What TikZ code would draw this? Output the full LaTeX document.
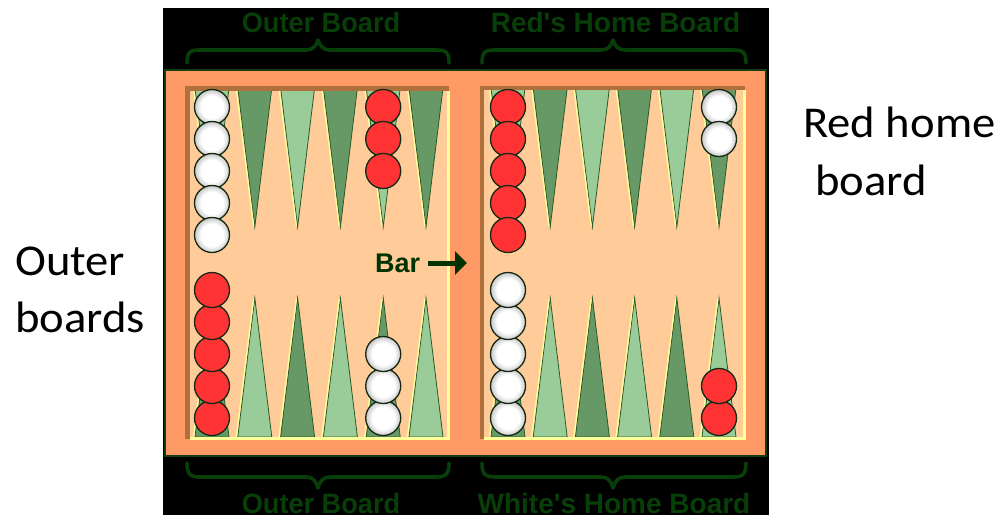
\documentclass[tikz,border=0pt]{standalone}
\usepackage{fontspec}
\setmainfont{Carlito}
\newfontfamily\boardfont{Liberation Sans}[Ligatures=TeXOff]
\usetikzlibrary{arrows.meta}
\definecolor{framecol}{RGB}{255,153,102}
\definecolor{peach}{RGB}{255,204,153}
\definecolor{bevel}{RGB}{176,112,60}
\definecolor{hilite}{RGB}{255,255,153}
\definecolor{darktri}{RGB}{102,153,102}
\definecolor{lighttri}{RGB}{153,204,153}
\definecolor{triedge}{RGB}{40,90,40}
\definecolor{redch}{RGB}{255,51,51}
\definecolor{labelgreen}{RGB}{8,62,8}
\definecolor{bargreen}{RGB}{0,51,0}
\definecolor{frameline}{RGB}{20,60,20}
\definecolor{chkline}{RGB}{20,40,20}
\pgfdeclareradialshading{chkshade}{\pgfpoint{0bp}{0bp}}{color(0bp)=(white); color(16bp)=(white); color(25bp)=(black!22); color(50bp)=(black!22)}
\begin{document}
\begin{tikzpicture}[x=1pt,y=-1pt,
  whitechk/.style={circle, minimum size=35pt, inner sep=0pt, draw=chkline, line width=1.3pt, shading=chkshade},
  redchk/.style={circle, minimum size=35pt, inner sep=0pt, draw=chkline, line width=1.3pt, fill=redch},
  lbl/.style={font=\boardfont\bfseries\fontsize{28}{30}\selectfont, text=labelgreen, inner sep=0pt, anchor=base},
  side/.style={font=\fontsize{44}{50}\selectfont, inner sep=0pt, anchor=base west},
  brace/.style={draw=labelgreen, line width=3.6pt, line cap=round, line join=round},
  tri/.style={draw=triedge, line width=0.8pt},
  hl/.style={draw=hilite, line width=1.3pt}
]
\useasboundingbox (0,0) rectangle (1001,515);
\fill[white] (0,0) rectangle (1001,515);
% board background
\fill[black] (163,8) rectangle (769,515);
\fill[framecol] (165,70) rectangle (766,456);
\draw[frameline, line width=1.5pt] (165,70) rectangle (766,456);
\fill[peach] (185,86) rectangle (449,439);
\fill[peach] (480,86) rectangle (745,439);
% top points
\foreach \cx/\c in {212/lighttri,254.8/darktri,297.6/lighttri,340.4/darktri,383.2/lighttri,426/darktri,
                    508/lighttri,550.2/darktri,592.4/lighttri,634.6/darktri,676.8/lighttri,719/darktri}{
  \filldraw[tri, fill=\c] ({\cx-17},88) -- ({\cx+17},88) -- (\cx,227) -- cycle;
  \draw[hl] ({\cx-18.5},88) -- ({\cx-1.2},226);
}
% bottom points
\foreach \cx/\c in {212/darktri,254.8/lighttri,297.6/darktri,340.4/lighttri,383.2/darktri,426/lighttri,
                    508/darktri,550.2/lighttri,592.4/darktri,634.6/lighttri,676.8/darktri,719/lighttri}{
  \filldraw[tri, fill=\c] ({\cx-17},437) -- ({\cx+17},437) -- (\cx,298) -- cycle;
  \draw[hl] ({\cx-18.5},437) -- ({\cx-1.2},299);
}
% bevels
\fill[bevel] (185,86) rectangle (449,91);
\fill[bevel] (185,86) rectangle (190,439);
\fill[hilite] (190,437) rectangle (449,439.5);
\fill[hilite] (447,91) rectangle (449.5,439.5);
\fill[bevel] (480,86) rectangle (745,90);
\fill[bevel] (480,86) rectangle (484,439);
\fill[hilite] (484,437) rectangle (745,439.5);
\fill[hilite] (743,90) rectangle (745.5,439.5);
% checkers top
\foreach \k in {0,...,4}{ \node[whitechk] (tlw\k) at (212,{107+32*\k}) {}; }
\foreach \k in {0,...,2}{ \node[redchk] (tlr\k) at (383.2,{107+32*\k}) {}; }
\foreach \k in {0,...,4}{ \node[redchk] (trr\k) at (508,{107+32*\k}) {}; }
\foreach \k in {0,...,1}{ \node[whitechk] (trw\k) at (719,{107+32*\k}) {}; }
% checkers bottom
\foreach \k in {0,...,4}{ \node[redchk] (blr\k) at (212,{418-32*\k}) {}; }
\foreach \k in {0,...,2}{ \node[whitechk] (blw\k) at (383.2,{418-32*\k}) {}; }
\foreach \k in {0,...,4}{ \node[whitechk] (brw\k) at (508,{418-32*\k}) {}; }
\foreach \k in {0,...,1}{ \node[redchk] (brr\k) at (719,{418-32*\k}) {}; }
% bar label
\node[font=\boardfont\bfseries\fontsize{27}{30}\selectfont, text=bargreen, anchor=base west, inner sep=0pt] (bar) at (375,272) {Bar};
\coordinate (barpt) at (467,263);
\draw[bargreen, line width=5pt, -{Triangle[length=12pt,width=23pt]}] (bar.east |- barpt) ++(8,0) -- (barpt);
% braces
\draw[brace] (187,63) .. controls (187,52) and (190,50) .. (200,50) -- (306,50) .. controls (313,50) and (316,46) .. (318,40) .. controls (320,46) and (323,50) .. (330,50) -- (436,50) .. controls (446,50) and (449,52) .. (449,63);
\draw[brace] (482,63) .. controls (482,52) and (485,50) .. (495,50) -- (601,50) .. controls (608,50) and (611,46) .. (613,40) .. controls (615,46) and (618,50) .. (625,50) -- (733,50) .. controls (743,50) and (746,52) .. (746,63);
\draw[brace] (187,463) .. controls (187,474) and (190,477) .. (200,477) -- (306,477) .. controls (313,477) and (316,481) .. (318,488) .. controls (320,481) and (323,477) .. (330,477) -- (436,477) .. controls (446,477) and (449,474) .. (449,463);
\draw[brace] (482,463) .. controls (482,474) and (485,477) .. (495,477) -- (601,477) .. controls (608,477) and (611,481) .. (613,488) .. controls (615,481) and (618,477) .. (625,477) -- (733,477) .. controls (743,477) and (746,474) .. (746,463);
% board labels
\node[lbl] (lblTL) at (321,32) {\scalebox{0.97}[1]{Outer Board}};
\node[lbl] (lblTR) at (615.5,32) {\scalebox{1.0}[1]{Red's Home Board}};
\node[lbl] (lblBL) at (321,513) {\scalebox{0.97}[1]{Outer Board}};
\node[lbl] (lblBR) at (614,513) {\scalebox{1.0}[1]{White's Home Board}};
% side labels
\node[side] (rh1) at (803,137) {\scalebox{1.06}[1]{Red home}};
\node[side] (rh2) at (815,195) {\scalebox{1.06}[1]{board}};
\node[side] (ob1) at (15,275) {\scalebox{1.06}[1]{Outer}};
\node[side] (ob2) at (15,332) {\scalebox{1.06}[1]{boards}};
\end{tikzpicture}
\end{document}
